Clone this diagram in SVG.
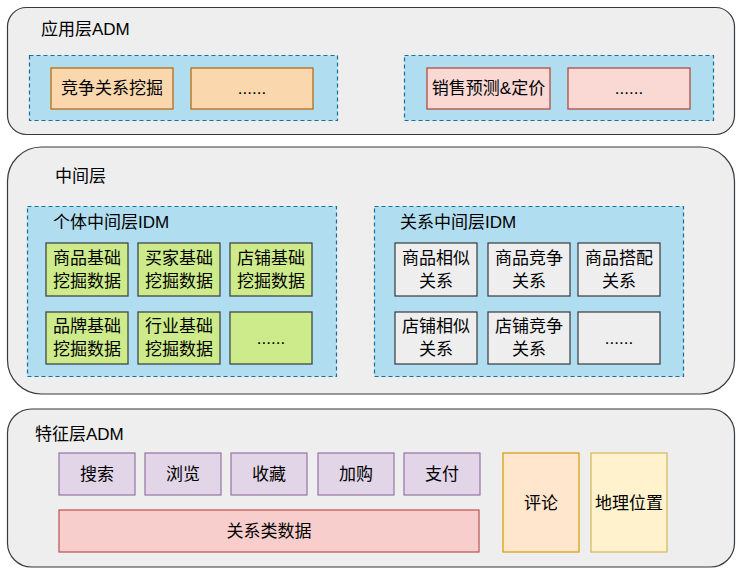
<svg xmlns="http://www.w3.org/2000/svg" width="742" height="575" viewBox="0 0 742 575">
<style>
text{font-family:"Liberation Sans","Noto Sans CJK SC",sans-serif;font-size:17px;fill:#000;dominant-baseline:central}
.c{text-anchor:middle}
.layer{fill:#eeeeee;stroke:#36393d;stroke-width:1.2}
.dash{fill:#b1ddf0;stroke:#10739e;stroke-width:1.2;stroke-dasharray:4 3}
.orange{fill:#fad7ac;stroke:#b46504;stroke-width:1.2}
.red{fill:#fad9d5;stroke:#ae4132;stroke-width:1.2}
.green{fill:#cdeb8b;stroke:#36393d;stroke-width:1.2}
.gray{fill:#eeeeee;stroke:#36393d;stroke-width:1.2}
.purple{fill:#e1d5e7;stroke:#9673a6;stroke-width:1.2}
.pink{fill:#f8cecc;stroke:#b85450;stroke-width:1.2}
.peach{fill:#ffe6cc;stroke:#d79b00;stroke-width:1.2}
.yellow{fill:#fff2cc;stroke:#d6b656;stroke-width:1.2}
</style>
<g id="layer-app">
<rect class="layer" x="7.5" y="7.5" width="727" height="127" rx="19"/>
<text x="41" y="29.5">应用层ADM</text>
</g>
<g id="app-group1">
<rect class="dash" x="29.5" y="55.5" width="308" height="65"/>
</g>
<g id="app-compete"><rect class="orange" x="51" y="68" width="122" height="41"/><text class="c" x="112" y="88.5">竞争关系挖掘</text></g>
<g id="app-more1"><rect class="orange" x="191" y="68" width="122" height="41"/><text class="c" x="252" y="88.5">......</text></g>
<g id="app-group2">
<rect class="dash" x="404.5" y="55.5" width="309" height="65"/>
</g>
<g id="app-sales"><rect class="red" x="427" y="68" width="123" height="41"/><text class="c" x="488.5" y="88.5">销售预测&amp;定价</text></g>
<g id="app-more2"><rect class="red" x="568" y="68" width="122" height="41"/><text class="c" x="629" y="88.5">......</text></g>

<g id="layer-mid">
<rect class="layer" x="7.5" y="147" width="727" height="247" rx="34"/>
<text x="55" y="176">中间层</text>
</g>
<g id="mid-individual">
<rect class="dash" x="27.5" y="206.5" width="309" height="170"/>
<text x="53" y="222.5">个体中间层IDM</text>
</g>
<g id="mid-item"><rect class="green" x="46" y="243" width="82" height="53"/><text class="c" x="87" y="258">商品基础</text><text class="c" x="87" y="281">挖掘数据</text></g>
<g id="mid-buyer"><rect class="green" x="138" y="243" width="82" height="53"/><text class="c" x="179" y="258">买家基础</text><text class="c" x="179" y="281">挖掘数据</text></g>
<g id="mid-shop"><rect class="green" x="230" y="243" width="82" height="53"/><text class="c" x="271" y="258">店铺基础</text><text class="c" x="271" y="281">挖掘数据</text></g>
<g id="mid-brand"><rect class="green" x="46" y="312" width="82" height="52"/><text class="c" x="87" y="326.5">品牌基础</text><text class="c" x="87" y="349.5">挖掘数据</text></g>
<g id="mid-industry"><rect class="green" x="138" y="312" width="82" height="52"/><text class="c" x="179" y="326.5">行业基础</text><text class="c" x="179" y="349.5">挖掘数据</text></g>
<g id="mid-more1"><rect class="green" x="230" y="312" width="82" height="52"/><text class="c" x="271" y="338">......</text></g>

<g id="mid-relation">
<rect class="dash" x="374.5" y="206.5" width="309" height="170"/>
<text x="400" y="222.5">关系中间层IDM</text>
</g>
<g id="rel-item-sim"><rect class="gray" x="395" y="243" width="82" height="53"/><text class="c" x="436" y="258">商品相似</text><text class="c" x="436" y="281">关系</text></g>
<g id="rel-item-comp"><rect class="gray" x="488" y="243" width="82" height="53"/><text class="c" x="529" y="258">商品竞争</text><text class="c" x="529" y="281">关系</text></g>
<g id="rel-item-match"><rect class="gray" x="578" y="243" width="82" height="53"/><text class="c" x="619" y="258">商品搭配</text><text class="c" x="619" y="281">关系</text></g>
<g id="rel-shop-sim"><rect class="gray" x="395" y="312" width="82" height="52"/><text class="c" x="436" y="326.5">店铺相似</text><text class="c" x="436" y="349.5">关系</text></g>
<g id="rel-shop-comp"><rect class="gray" x="488" y="312" width="82" height="52"/><text class="c" x="529" y="326.5">店铺竞争</text><text class="c" x="529" y="349.5">关系</text></g>
<g id="rel-more"><rect class="gray" x="578" y="312" width="82" height="52"/><text class="c" x="619" y="338">......</text></g>

<g id="layer-feature">
<rect class="layer" x="7.5" y="409" width="727" height="158" rx="24"/>
<text x="35" y="434">特征层ADM</text>
</g>
<g id="feat-search"><rect class="purple" x="59" y="453" width="76" height="42"/><text class="c" x="97" y="474">搜索</text></g>
<g id="feat-browse"><rect class="purple" x="145" y="453" width="76" height="42"/><text class="c" x="183" y="474">浏览</text></g>
<g id="feat-fav"><rect class="purple" x="231" y="453" width="76" height="42"/><text class="c" x="269" y="474">收藏</text></g>
<g id="feat-cart"><rect class="purple" x="318" y="453" width="76" height="42"/><text class="c" x="356" y="474">加购</text></g>
<g id="feat-pay"><rect class="purple" x="404" y="453" width="76" height="42"/><text class="c" x="442" y="474">支付</text></g>
<g id="feat-relation"><rect class="pink" x="59" y="510" width="420" height="42"/><text class="c" x="269" y="531">关系类数据</text></g>
<g id="feat-comment"><rect class="peach" x="503" y="453" width="76" height="99"/><text class="c" x="541" y="503">评论</text></g>
<g id="feat-geo"><rect class="yellow" x="591" y="453" width="76" height="99"/><text class="c" x="629" y="503">地理位置</text></g>
<g id="connectors"></g>
</svg>
